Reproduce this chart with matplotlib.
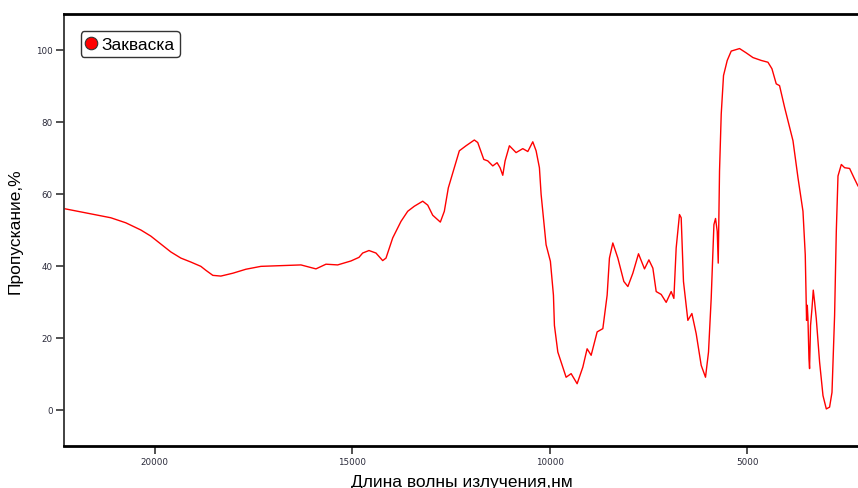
import matplotlib
matplotlib.use("Agg")
import matplotlib.pyplot as plt
from matplotlib.lines import Line2D

plt.rcParams['font.family'] = ['Liberation Sans', 'DejaVu Sans']

wavelength = [22280, 21621, 21115, 20735, 20354, 20101, 19848, 19594, 19341, 19088,
              18834, 18707, 18531, 18328, 18023, 17694, 17314, 17060, 16554, 16300,
              15920, 15666, 15370, 15033,
              14830, 14737, 14577, 14400, 14230, 14146, 13976, 13766, 13596, 13429,
              13216, 13089, 12963, 12770, 12669, 12568, 12415, 12289, 12119, 11909,
              11823, 11670, 11569, 11442, 11333, 11257, 11189, 11130, 11021, 10852,
              10682, 10555, 10429, 10345, 10261, 10218, 10134, 10092, 9983, 9906,
              9881, 9795, 9585, 9458, 9306, 9162, 9053, 8951, 8799, 8655,
              8546, 8488, 8402, 8275, 8123, 8021, 7895, 7752, 7600, 7489,
              7388, 7304, 7177, 7051, 6924, 6856, 6798, 6714, 6671, 6613,
              6502, 6400, 6291, 6164, 6055, 5979, 5911, 5842, 5801, 5758,
              5733, 5700, 5657, 5599, 5505, 5404, 5193, 5024, 4854, 4644,
              4474, 4373, 4264, 4180, 4053, 3926, 3840, 3713, 3587, 3529,
              3496, 3478, 3461, 3435, 3420, 3395, 3359, 3326, 3293, 3250,
              3166, 3080, 2996, 2913, 2852, 2786, 2743, 2700, 2616, 2532,
              2406, 2295, 2193, 2160]
transmittance = [55.9, 54.5, 53.4, 52.0, 50.0, 48.3, 46.1, 43.9, 42.2, 41.1,
                 39.9, 38.8, 37.4, 37.2, 38.0, 39.1, 39.9, 40.0, 40.2, 40.3,
                 39.2, 40.5, 40.3, 41.4,
                 42.4, 43.6, 44.3, 43.6, 41.5, 42.2, 47.8, 52.4, 55.2, 56.6,
                 58.0, 56.9, 54.1, 52.2, 55.2, 61.7, 67.3, 72.0, 73.4, 75.0,
                 74.3, 69.6, 69.2, 67.8, 68.7, 67.3, 65.2, 69.2, 73.4, 71.5,
                 72.6, 71.8, 74.5, 72.0, 67.3, 59.9, 50.6, 45.9, 41.3, 31.9,
                 23.5, 16.1, 9.1, 10.1, 7.3, 11.9, 17.0, 15.2, 21.7, 22.6,
                 31.9, 42.2, 46.4, 42.2, 35.7, 34.3, 38.0, 43.4, 39.2, 41.7,
                 39.4, 32.9, 32.1, 29.9, 32.9, 31.0, 45.0, 54.3, 53.4, 35.7,
                 24.9, 26.8, 21.2, 12.4, 9.1, 16.1, 31.0, 51.5, 53.2, 49.6,
                 40.8, 66.4, 82.2, 92.9, 97.1, 99.7, 100.4, 99.2, 97.9, 97.1,
                 96.6, 94.8, 90.6, 90.1, 84.1, 78.5, 74.8, 64.5, 55.2, 43.1,
                 24.9, 29.1, 25.4, 14.2, 11.5, 23.5, 28.2, 33.3, 30.1, 25.4,
                 13.3, 4.0, 0.3, 0.8, 4.9, 26.3, 49.6, 65.0, 68.2, 67.3,
                 67.1, 64.5, 62.2, 62.0]

series_name = "Закваска"
x_ticks = [20000, 15000, 10000, 5000]
y_ticks = [0, 20, 40, 60, 80, 100]
x_label = "Длина волны излучения,нм"
y_label = "Пропускание,%"

fig = plt.figure(figsize=(8.58, 4.89), dpi=100)
ax = fig.add_axes([64 / 858, 42 / 489, 1 - 64 / 858 + 0.002, (447 - 15) / 489])

ax.plot(wavelength, transmittance, color='#ff0000', lw=1.0)
ax.set_xlim(22300, 2150)
ax.set_ylim(-10, 110)
ax.set_xticks(x_ticks)
ax.set_yticks(y_ticks)
ax.tick_params(axis='both', length=6, width=1.2, color='#333333',
               direction='out', pad=2)
for lab in ax.get_xticklabels() + ax.get_yticklabels():
    lab.set_fontfamily('DejaVu Sans')
    lab.set_fontsize(6.3)
    lab.set_color('#2a2a3a')

ax.spines['top'].set_linewidth(2)
ax.spines['top'].set_color('black')
ax.spines['bottom'].set_linewidth(2)
ax.spines['bottom'].set_color('black')
ax.spines['left'].set_linewidth(1.3)
ax.spines['left'].set_color('#333333')
ax.spines['right'].set_visible(False)

ax.set_xlabel(x_label, fontsize=12.5, labelpad=6)
ax.set_ylabel(y_label, fontsize=12.5, labelpad=10)

handle = Line2D([], [], marker='o', color='none', markerfacecolor='#ff0000',
                markeredgecolor='#333333', markersize=9, markeredgewidth=0.8)
leg = ax.legend([handle], [series_name], loc='upper left', bbox_to_anchor=(0.021, 0.96),
                fontsize=12.5, frameon=True, fancybox=True, handlelength=0.6,
                handletextpad=0.3, borderpad=0.3, borderaxespad=0.0)
leg.get_frame().set_edgecolor('#333333')
leg.get_frame().set_linewidth(1.0)
leg.get_frame().set_alpha(1)

fig.savefig('out.png', dpi=100)
